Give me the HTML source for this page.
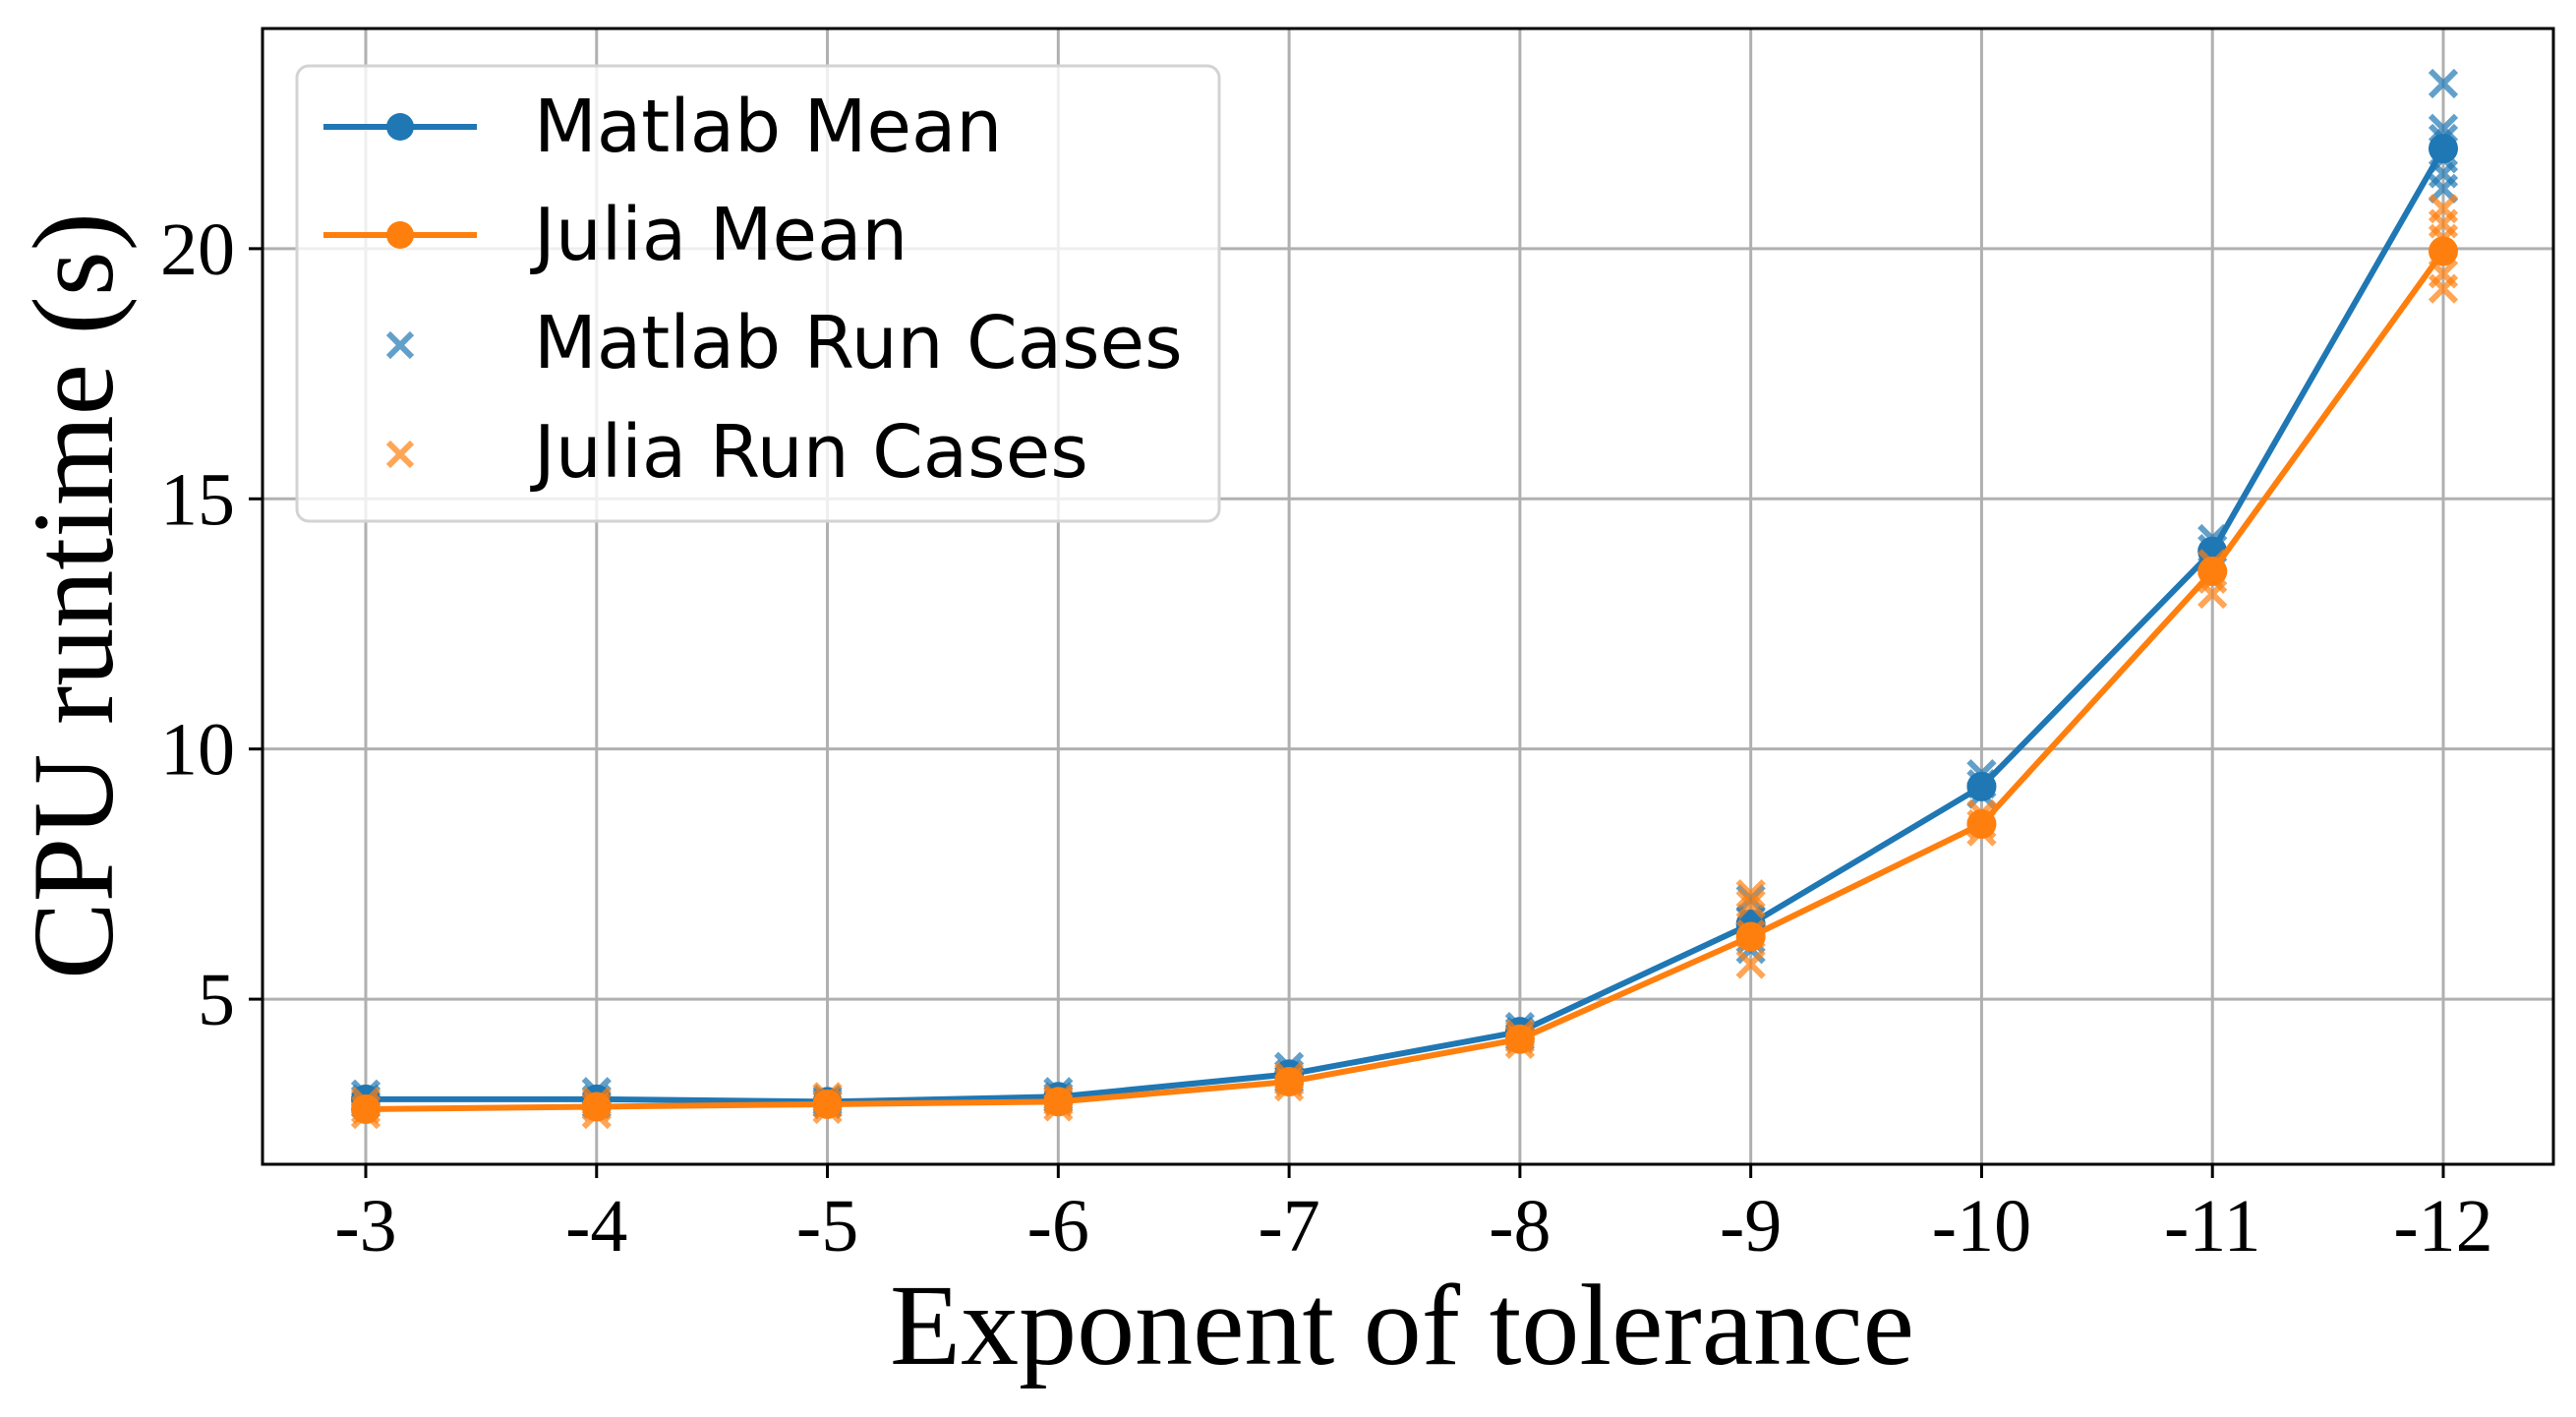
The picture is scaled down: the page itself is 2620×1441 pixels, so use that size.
<!DOCTYPE html>
<html><head><meta charset="utf-8"><style>
html,body{margin:0;padding:0;background:#fff;}
svg{display:block;}
</style></head><body>
<svg id="chart" width="2620" height="1441" viewBox="0 0 2620 1441" xmlns="http://www.w3.org/2000/svg">
<rect x="0" y="0" width="2620" height="1441" fill="#fff"/>
<g id="grid"></g>
<g id="marks"></g>
<g id="axes"></g>
<text x="1426" y="1387" font-family="Liberation Serif, serif" font-size="118" text-anchor="middle">Exponent of tolerance</text>
<text transform="translate(114,606) rotate(-90)" font-family="Liberation Serif, serif" font-size="118" text-anchor="middle">CPU runtime (s)</text>
<g>
<rect x="302" y="67" width="938" height="463" rx="12" fill="#fff" fill-opacity="0.8" stroke="#d3d3d3" stroke-width="3"/>
<g>
<line x1="329" y1="129" x2="485" y2="129" stroke="#1f77b4" stroke-width="6"/><circle cx="407" cy="129" r="14" fill="#1f77b4"/>
<text x="543" y="154" font-family="DejaVu Sans, sans-serif" font-size="74">Matlab Mean</text></g>
<g>
<line x1="329" y1="239" x2="485" y2="239" stroke="#ff7f0e" stroke-width="6"/><circle cx="407" cy="239" r="14" fill="#ff7f0e"/>
<text x="543" y="264" font-family="DejaVu Sans, sans-serif" font-size="74">Julia Mean</text></g>
<g>
<path d="M395 339 L419 363 M419 339 L395 363" stroke="#1f77b4" stroke-opacity="0.7" stroke-width="6"/>
<text x="543" y="374" font-family="DejaVu Sans, sans-serif" font-size="74">Matlab Run Cases</text></g>
<g>
<path d="M395 450 L419 474 M419 450 L395 474" stroke="#ff7f0e" stroke-opacity="0.7" stroke-width="6"/>
<text x="543" y="485" font-family="DejaVu Sans, sans-serif" font-size="74">Julia Run Cases</text></g>
</g>
</svg>
<script>
const categories = ["-3","-4","-5","-6","-7","-8","-9","-10","-11","-12"];
const matlabMean = [3.0, 3.0, 2.95, 3.05, 3.5, 4.35, 6.5, 9.25, 13.95, 22.0];
const juliaMean = [2.8, 2.85, 2.9, 2.95, 3.35, 4.2, 6.25, 8.5, 13.55, 19.95];
const matlabRuns = [[3.1,3.0,2.9],[3.15,3.0,2.9],[3.0,2.95,2.9],[3.15,3.05,3.0],[3.65,3.5,3.4],[4.45,4.35,4.25],[7.0,6.6,6.2,6.0],[9.5,9.3,9.1],[14.2,14.0,13.8],[23.3,22.4,22.2,21.8,21.5,21.2]];
const juliaRuns = [[2.95,2.8,2.7],[2.95,2.85,2.7],[3.05,2.9,2.8],[3.0,2.95,2.85],[3.45,3.35,3.25],[4.3,4.2,4.1],[7.1,6.9,6.3,5.7],[8.7,8.5,8.35],[13.7,13.4,13.1],[20.8,20.5,20.2,19.5,19.2]];
const yTicks = [5, 10, 15, 20];
const NS = "http://www.w3.org/2000/svg";
const L = 267, R = 2597, T = 29, B = 1184;
const yMin = 1.7, yMax = 24.4;
const xPos = i => 372 + i * (2485 - 372) / (categories.length - 1);
const yPos = v => B - (v - yMin) / (yMax - yMin) * (B - T);
function mk(tag, attrs, parent){const e=document.createElementNS(NS,tag);for(const k in attrs)e.setAttribute(k,attrs[k]);parent.appendChild(e);return e;}
const grid = document.getElementById('grid'), marks = document.getElementById('marks'), axes = document.getElementById('axes');
categories.forEach((c,i)=>{
  const g = mk('line',{x1:xPos(i),x2:xPos(i),y1:T,y2:B,stroke:'#b0b0b0','stroke-width':3},grid);
  
  
  const t = mk('line',{x1:xPos(i),x2:xPos(i),y1:B,y2:B+14,stroke:'#000','stroke-width':3},axes);
  
  
  const lb = mk('text',{x:xPos(i),y:1272,'text-anchor':'middle','font-family':'Liberation Serif, serif','font-size':76},axes);
  lb.textContent = c;
  
  
});
yTicks.forEach(v=>{
  const g = mk('line',{x1:L,x2:R,y1:yPos(v),y2:yPos(v),stroke:'#b0b0b0','stroke-width':3},grid);
  
  
  const t = mk('line',{x1:L-14,x2:L,y1:yPos(v),y2:yPos(v),stroke:'#000','stroke-width':3},axes);
  
  
  const lb = mk('text',{x:L-28,y:yPos(v)+26,'text-anchor':'end','font-family':'Liberation Serif, serif','font-size':76},axes);
  lb.textContent = v;
  
  
});
const frame = mk('rect',{x:L,y:T,width:R-L,height:B-T,fill:'none',stroke:'#000','stroke-width':3},axes);


function drawSeries(mean, runs, color, name){
  runs.forEach((arr,i)=>arr.forEach(v=>{
    const x=xPos(i), y=yPos(v), s=13;
    const p = mk('path',{d:`M${x-s} ${y-s} L${x+s} ${y+s} M${x+s} ${y-s} L${x-s} ${y+s}`,stroke:color,'stroke-opacity':0.7,'stroke-width':6},marks);
    
    
  }));
  const pts = mean.map((v,i)=>xPos(i)+','+yPos(v)).join(' ');
  const pl = mk('polyline',{points:pts,fill:'none',stroke:color,'stroke-width':6,'stroke-linejoin':'round'},marks);
  
  
  mean.forEach((v,i)=>{
    const c = mk('circle',{cx:xPos(i),cy:yPos(v),r:15,fill:color},marks);
    
    
  });
}
drawSeries(matlabMean, matlabRuns, '#1f77b4', 'matlab');
drawSeries(juliaMean, juliaRuns, '#ff7f0e', 'julia');
</script>
</body></html>
